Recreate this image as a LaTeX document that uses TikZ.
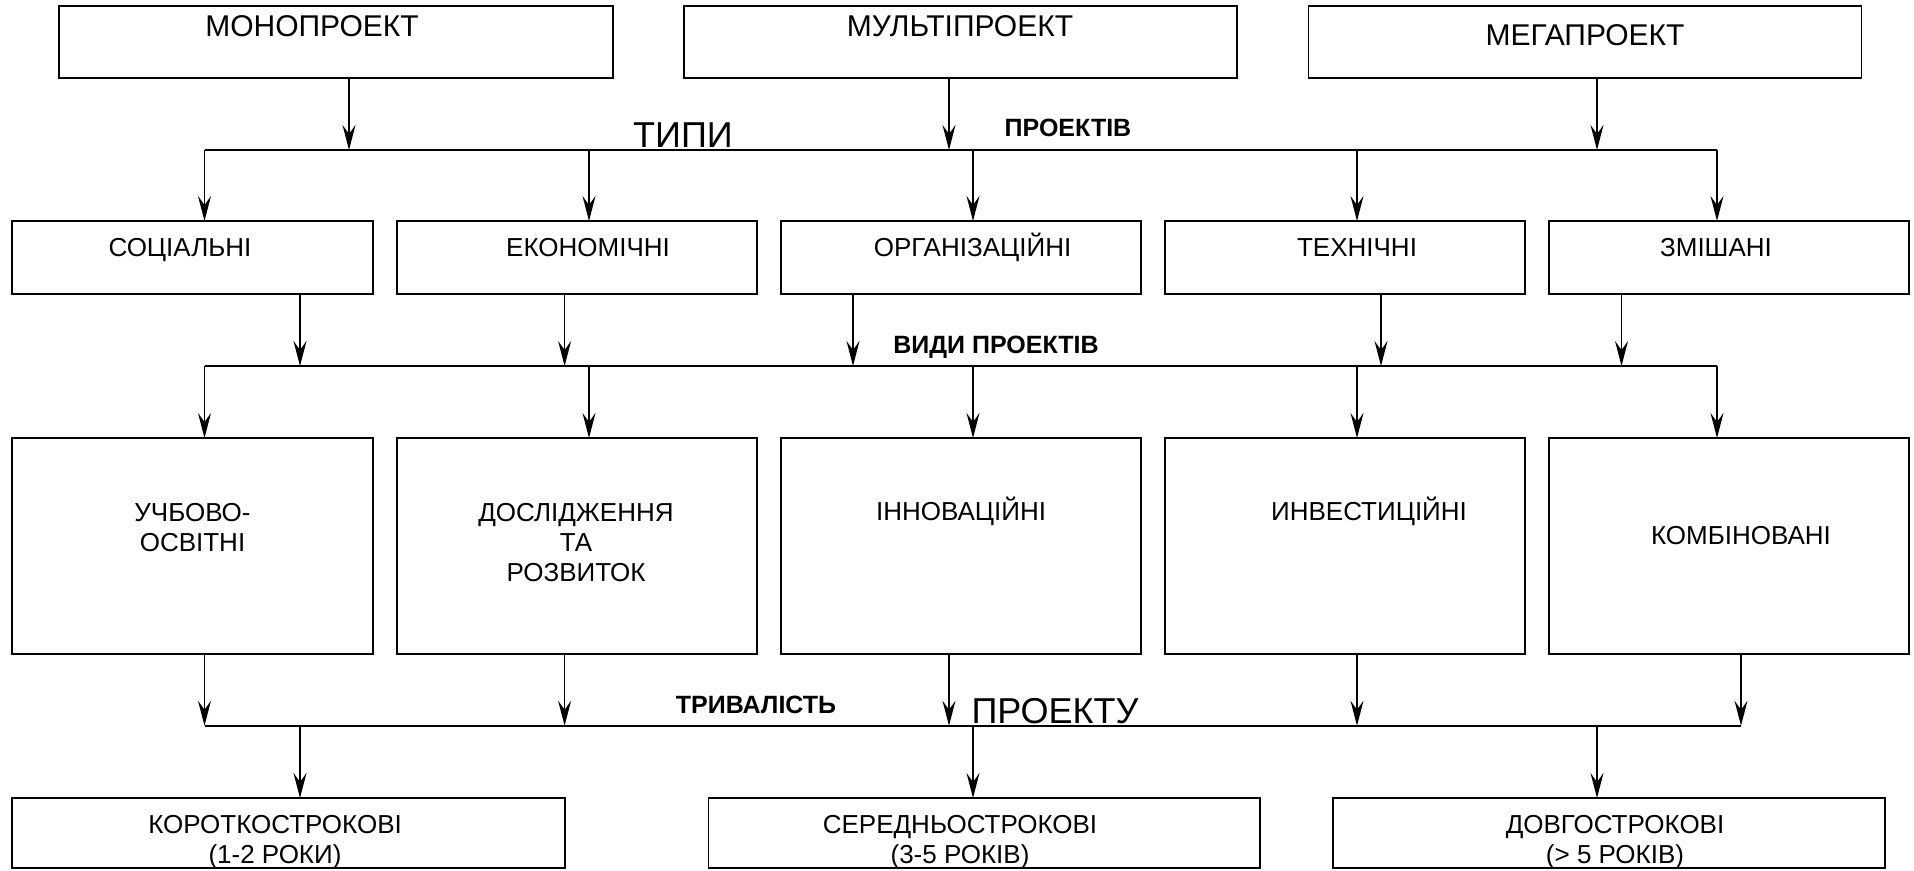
\documentclass[tikz,border=0pt]{standalone}
\usepackage{fontspec}
\setmainfont{Liberation Sans}
\usetikzlibrary{arrows.meta}
\begin{document}
\begin{tikzpicture}[x=1pt,y=-1pt,
  box/.style={draw, line width=1.8pt, inner sep=0pt, outer sep=0pt},
  txt/.style={inner sep=0pt, anchor=base, align=center, font=\fontsize{26}{30}\selectfont},
  bigtxt/.style={inner sep=0pt, anchor=base, font=\fontsize{30}{34}\selectfont},
  hugetxt/.style={inner sep=0pt, anchor=base, font=\fontsize{36}{40}\selectfont},
  boldtxt/.style={inner sep=0pt, anchor=base, font=\fontsize{25}{29}\selectfont\bfseries},
  arr/.style={line width=1.5pt, -{Stealth[length=25pt,width=13pt,inset=9pt]}},
  bus/.style={line width=1.8pt}]
\useasboundingbox (0,0) rectangle (1914,870);

% ---- top row
\node[box, minimum width=554pt, minimum height=72pt] (mono)  at (336,42) {};
\node[box, minimum width=553pt, minimum height=72pt] (multi) at (960.5,42) {};
\node[box, minimum width=553pt, minimum height=72pt] (mega)  at (1585,42) {};
\node[bigtxt] (tmono)  at (312,36.7) {МОНОПРОЕКТ};
\node[bigtxt] (tmulti) at (960,36.7) {МУЛЬТІПРОЕКТ};
\node[bigtxt] (tmega)  at (1585,45) {МЕГАПРОЕКТ};

% ---- bus 1
\coordinate (b1L) at (204.5,150);
\coordinate (b1R) at (1717,150);
\draw[bus] (b1L) -- (b1R);
\node[hugetxt] (ttypes) at (683,147) {ТИПИ};
\node[boldtxt] (tproj1) at (1068,136.7) {ПРОЕКТІВ};
\coordinate (i1a) at (349,150);
\coordinate (i1b) at (949,150);
\coordinate (i1c) at (1597,150);
\draw[arr] (mono.south -| i1a) -- (i1a);
\draw[arr] (multi.south -| i1b) -- (i1b);
\draw[arr] (mega.south -| i1c) -- (i1c);

% ---- row 2
\node[box, minimum width=361pt, minimum height=73pt] (soc) at (192.5,257.5) {};
\node[box, minimum width=360pt, minimum height=73pt] (eco) at (577,257.5) {};
\node[box, minimum width=360pt, minimum height=73pt] (org) at (961,257.5) {};
\node[box, minimum width=360pt, minimum height=73pt] (tec) at (1345,257.5) {};
\node[box, minimum width=360pt, minimum height=73pt] (mix) at (1729,257.5) {};
\node[txt] (tsoc) at (180,256) {СОЦІАЛЬНІ};
\node[txt] (teco) at (588,256) {ЕКОНОМІЧНІ};
\node[txt] (torg) at (972.5,256) {ОРГАНІЗАЦІЙНІ};
\node[txt] (ttec) at (1357,256) {ТЕХНІЧНІ};
\node[txt] (tmix) at (1716,256) {ЗМІШАНІ};
\coordinate (o1a) at (204.5,150);
\coordinate (o1b) at (589,150);
\coordinate (o1c) at (973,150);
\coordinate (o1d) at (1357,150);
\coordinate (o1e) at (1717,150);
\draw[arr] (o1a) -- (soc.north -| o1a);
\draw[arr] (o1b) -- (eco.north -| o1b);
\draw[arr] (o1c) -- (org.north -| o1c);
\draw[arr] (o1d) -- (tec.north -| o1d);
\draw[arr] (o1e) -- (mix.north -| o1e);

% ---- bus 2
\coordinate (b2L) at (204.5,366);
\coordinate (b2R) at (1717,366);
\draw[bus] (b2L) -- (b2R);
\node[boldtxt] (tkinds) at (996,353) {ВИДИ ПРОЕКТІВ};
\coordinate (i2a) at (300,366);
\coordinate (i2b) at (564.6,366);
\coordinate (i2c) at (853,366);
\coordinate (i2d) at (1381,366);
\coordinate (i2e) at (1621.5,366);
\draw[arr] (soc.south -| i2a) -- (i2a);
\draw[arr] (eco.south -| i2b) -- (i2b);
\draw[arr] (org.south -| i2c) -- (i2c);
\draw[arr] (tec.south -| i2d) -- (i2d);
\draw[arr] (mix.south -| i2e) -- (i2e);

% ---- row 3
\node[box, minimum width=361pt, minimum height=216pt] (edu) at (192.5,546) {};
\node[box, minimum width=360pt, minimum height=216pt] (rnd) at (577,546) {};
\node[box, minimum width=360pt, minimum height=216pt] (inn) at (961,546) {};
\node[box, minimum width=360pt, minimum height=216pt] (inv) at (1345,546) {};
\node[box, minimum width=360pt, minimum height=216pt] (com) at (1729,546) {};
\node[txt] (tedu) at (192.5,551) {УЧБОВО-\\ОСВІТНІ};
\node[txt] (trnd) at (576,581.7) {ДОСЛІДЖЕННЯ\\ТА\\РОЗВИТОК};
\node[txt] (tinn) at (961,520) {ІННОВАЦІЙНІ};
\node[txt] (tinv) at (1369,520.7) {ИНВЕСТИЦІЙНІ};
\node[txt] (tcom) at (1741,544) {КОМБІНОВАНІ};
\coordinate (o2a) at (204.5,366);
\coordinate (o2b) at (589,366);
\coordinate (o2c) at (973,366);
\coordinate (o2d) at (1357,366);
\coordinate (o2e) at (1717,366);
\draw[arr] (o2a) -- (edu.north -| o2a);
\draw[arr] (o2b) -- (rnd.north -| o2b);
\draw[arr] (o2c) -- (inn.north -| o2c);
\draw[arr] (o2d) -- (inv.north -| o2d);
\draw[arr] (o2e) -- (com.north -| o2e);

% ---- bus 3
\coordinate (b3L) at (204.5,725.7);
\coordinate (b3R) at (1741,725.7);
\draw[bus] (b3L) -- (b3R);
\node[boldtxt] (tdur) at (756,713) {ТРИВАЛІСТЬ};
\node[hugetxt] (tproj3) at (1055,723) {ПРОЕКТУ};
\coordinate (i3a) at (204.5,725.7);
\coordinate (i3b) at (564.6,725.7);
\coordinate (i3c) at (949,725.7);
\coordinate (i3d) at (1357,725.7);
\coordinate (i3e) at (1741,725.7);
\draw[arr] (edu.south -| i3a) -- (i3a);
\draw[arr] (rnd.south -| i3b) -- (i3b);
\draw[arr] (inn.south -| i3c) -- (i3c);
\draw[arr] (inv.south -| i3d) -- (i3d);
\draw[arr] (com.south -| i3e) -- (i3e);

% ---- bottom row
\node[box, minimum width=552.6pt, minimum height=70pt] (short) at (288.3,833) {};
\node[box, minimum width=551.5pt, minimum height=70pt] (mid)   at (984.25,833) {};
\node[box, minimum width=552pt,   minimum height=70pt] (long)  at (1609,833) {};
\node[txt] (tshort) at (275,863) {КОРОТКОСТРОКОВІ\\(1-2 РОКИ)};
\node[txt] (tmid)   at (960,863) {СЕРЕДНЬОСТРОКОВІ\\(3-5 РОКІВ)};
\node[txt] (tlong)  at (1615,863) {ДОВГОСТРОКОВІ\\(> 5 РОКІВ)};
\coordinate (o3a) at (300,725.7);
\coordinate (o3b) at (973,725.7);
\coordinate (o3c) at (1597,725.7);
\draw[arr] (o3a) -- (short.north -| o3a);
\draw[arr] (o3b) -- (mid.north -| o3b);
\draw[arr] (o3c) -- (long.north -| o3c);
\end{tikzpicture}
\end{document}
